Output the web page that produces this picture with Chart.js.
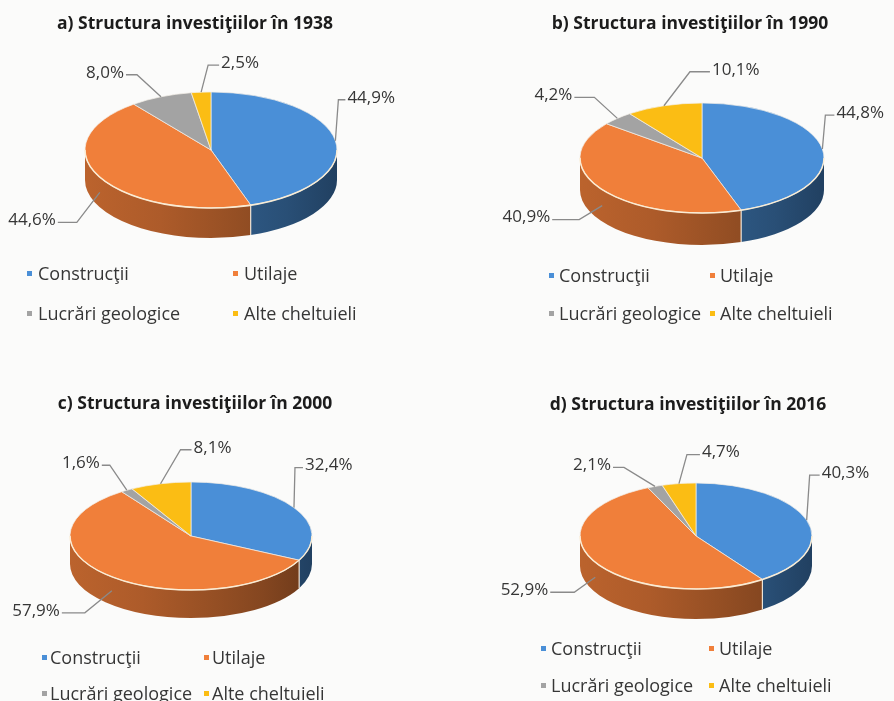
<!DOCTYPE html>
<html>
<head>
<meta charset="utf-8">
<script src="https://cdn.jsdelivr.net/npm/chart.js@4.4.1/dist/chart.umd.min.js"></script>
<style>
  html, body { margin: 0; padding: 0; background: #fbfbfa; }
  #wrap { position: relative; width: 894px; height: 701px; overflow: hidden; }
  #wrap canvas { position: absolute; }
</style>
</head>
<body>
<div id="wrap">
  <canvas id="p0" width="447" height="350" style="left:0;top:0"></canvas>
  <canvas id="p1" width="447" height="350" style="left:447px;top:0"></canvas>
  <canvas id="p2" width="447" height="351" style="left:0;top:350px"></canvas>
  <canvas id="p3" width="447" height="351" style="left:447px;top:350px"></canvas>
</div>
<script>
// ---- data ----
const categories = ['Construcţii', 'Utilaje', 'Lucrări geologice', 'Alte cheltuieli'];
const panelLetters = ['a', 'b', 'c', 'd'];
const years = ['1938', '1990', '2000', '2016'];
const shares1938 = [44.9, 44.6, 8.0, 2.5];
const shares1990 = [44.8, 40.9, 4.2, 10.1];
const shares2000 = [32.4, 57.9, 1.6, 8.1];
const shares2016 = [40.3, 52.9, 2.1, 4.7];
const seriesByYear = [shares1938, shares1990, shares2000, shares2016];

// ---- styles ----
const sliceColors = ['#4a8fd7', '#f07f3a', '#a3a3a3', '#fbbd14'];
// darkening of the pie wall from left to right
const wallShades = [[0, 0.78], [0.3, 0.72], [0.6, 0.62], [0.8, 0.55], [1, 0.45]];
const FONT = '"Open Sans", "Noto Sans", sans-serif';
const textColor = '#363636';
const leaderColor = '#8a8a8a';

// panel layout, in each canvas' own pixels
// callouts: [dx, dy, horizontal run] from the slice anchor
const panels = [
  { cx: 211, cy: 150, rx: 126, ry: 58, depth: 30,
    title: { x: 195, y: 29 },
    legend: { cols: [27, 233], gap: 11, rows: [280, 320] },
    callouts: [[3, -41, 7], [-23, 30, -19], [-24, -22, -11], [7, -27, 11]] },
  { cx: 255, cy: 158, rx: 122, ry: 55, depth: 32,
    title: { x: 243, y: 29 },
    legend: { cols: [102, 263], gap: 10, rows: [282, 320] },
    callouts: [[3, -34, 9], [-23, 14, -27], [-23, -21, -20], [26, -34, 20]] },
  { cx: 191, cy: 186, rx: 121, ry: 54, depth: 28,
    title: { x: 195, y: 59 },
    legend: { cols: [42, 204], gap: 8, rows: [314, 350] },
    callouts: [[1, -40, 8], [-27, 22, -23], [-17, -25, -8], [20, -34, 11]] },
  { cx: 249, cy: 186, rx: 116, ry: 53, depth: 30,
    title: { x: 241, y: 60 },
    legend: { cols: [94, 262], gap: 10, rows: [305, 342] },
    callouts: [[3, -45, 10], [-21, 15, -24], [-31, -19, -11], [8, -29, 13]] }
];

function shade(hex, f) {
  const n = parseInt(hex.slice(1), 16);
  const r = Math.round(((n >> 16) & 255) * f);
  const g = Math.round(((n >> 8) & 255) * f);
  const b = Math.round((n & 255) * f);
  return `rgb(${r},${g},${b})`;
}

function fmt(v) {
  return v.toFixed(1).replace('.', ',') + '%';
}

// Tilted pie: wall underneath, top face squashed into an ellipse,
// callouts, title and legend on top.
const pie3d = {
  id: 'pie3d',
  beforeDatasetsDraw(chart, args, opts) {
    const p = panels[opts.panel];
    const ctx = chart.ctx;
    const arcs = chart.getDatasetMeta(0).data;
    const cx = arcs[0].x, cy = arcs[0].y, r = arcs[0].outerRadius;
    const ry = r * p.ry / p.rx;
    const d = p.depth;
    const colors = chart.data.datasets[0].backgroundColor;

    arcs.forEach((arc, i) => {
      const a0 = Math.max(arc.startAngle, 0);
      const a1 = Math.min(arc.endAngle, Math.PI);
      if (a1 <= a0) return;
      const g = ctx.createLinearGradient(cx - r, 0, cx + r, 0);
      wallShades.forEach(([t, f]) => g.addColorStop(t, shade(colors[i], f)));
      ctx.beginPath();
      ctx.ellipse(cx, cy, r, ry, 0, a0, a1, false);
      ctx.ellipse(cx, cy + d, r, ry, 0, a1, a0, true);
      ctx.closePath();
      ctx.fillStyle = g;
      ctx.fill();
    });
    // seams between wall segments
    ctx.save();
    ctx.strokeStyle = 'rgba(250,240,225,0.9)';
    ctx.lineWidth = 1.2;
    arcs.forEach(arc => {
      const a = arc.startAngle;
      if (a > 0 && a < Math.PI) {
        const x = cx + r * Math.cos(a), y = cy + ry * Math.sin(a);
        ctx.beginPath();
        ctx.moveTo(x, y);
        ctx.lineTo(x, y + d);
        ctx.stroke();
      }
    });
    ctx.restore();

    ctx.save();
    ctx.translate(cx, cy);
    ctx.scale(1, p.ry / p.rx);
    ctx.translate(-cx, -cy);
  },
  afterDatasetsDraw(chart, args, opts) {
    const ctx = chart.ctx;
    ctx.restore();
    const p = panels[opts.panel];
    const arcs = chart.getDatasetMeta(0).data;
    const cx = arcs[0].x, cy = arcs[0].y, r = arcs[0].outerRadius;
    const ry = r * p.ry / p.rx;
    const d = p.depth;
    const values = chart.data.datasets[0].data;

    // light rim along the front edge of the top face
    ctx.save();
    ctx.strokeStyle = 'rgba(252,238,214,0.95)';
    ctx.lineWidth = 1.5;
    ctx.beginPath();
    ctx.ellipse(cx, cy, r, ry, 0, 0, Math.PI, false);
    ctx.stroke();
    ctx.restore();

    // callouts
    ctx.save();
    ctx.font = '17px ' + FONT;
    ctx.textBaseline = 'middle';
    arcs.forEach((arc, i) => {
      const m = (arc.startAngle + arc.endAngle) / 2;
      const s = Math.sin(m);
      const ax = cx + r * Math.cos(m);
      const ay = cy + ry * s + (s > 0 ? d / 2 : 0);
      const [dx, dy, run] = p.callouts[i];
      const ex = ax + dx, ey = ay + dy, tx = ex + run;
      ctx.strokeStyle = leaderColor;
      ctx.lineWidth = 1.3;
      ctx.beginPath();
      ctx.moveTo(ax, ay);
      ctx.lineTo(ex, ey);
      ctx.lineTo(tx, ey);
      ctx.stroke();
      ctx.fillStyle = textColor;
      ctx.textAlign = run >= 0 ? 'left' : 'right';
      ctx.fillText(fmt(values[i]), tx + (run >= 0 ? 2 : -2), ey - 2);
    });
    ctx.restore();
  },
  afterDraw(chart, args, opts) {
    const p = panels[opts.panel];
    const ctx = chart.ctx;
    ctx.save();
    ctx.fillStyle = '#1c1c1c';
    ctx.font = 'bold 17.5px ' + FONT;
    ctx.textAlign = 'center';
    ctx.textBaseline = 'alphabetic';
    ctx.fillText(`${panelLetters[opts.panel]}) Structura investiţiilor în ${years[opts.panel]}`, p.title.x, p.title.y);

    ctx.font = '18px ' + FONT;
    ctx.textAlign = 'left';
    const colors = chart.data.datasets[0].backgroundColor;
    chart.data.labels.forEach((label, i) => {
      const mx = p.legend.cols[i % 2];
      const by = p.legend.rows[Math.floor(i / 2)];
      ctx.fillStyle = colors[i];
      ctx.fillRect(mx, by - 9, 5, 5);
      ctx.fillStyle = textColor;
      ctx.fillText(label, mx + p.legend.gap, by);
    });
    ctx.restore();
  }
};

seriesByYear.forEach((values, i) => {
  const canvas = document.getElementById('p' + i);
  const p = panels[i];
  const w = canvas.width, h = canvas.height;
  new Chart(canvas, {
    type: 'pie',
    data: {
      labels: categories,
      datasets: [{
        data: values,
        backgroundColor: sliceColors,
        borderColor: '#f3efe8',
        borderWidth: 1,
        radius: p.rx
      }]
    },
    options: {
      responsive: false,
      animation: false,
      devicePixelRatio: 1,
      events: [],
      layout: {
        padding: {
          left: Math.max(0, 2 * p.cx - w),
          right: Math.max(0, w - 2 * p.cx),
          top: Math.max(0, 2 * p.cy - h),
          bottom: Math.max(0, h - 2 * p.cy)
        }
      },
      plugins: {
        legend: { display: false },
        tooltip: { enabled: false },
        title: { display: false },
        pie3d: { panel: i }
      }
    },
    plugins: [pie3d]
  });
});
</script>
</body>
</html>
